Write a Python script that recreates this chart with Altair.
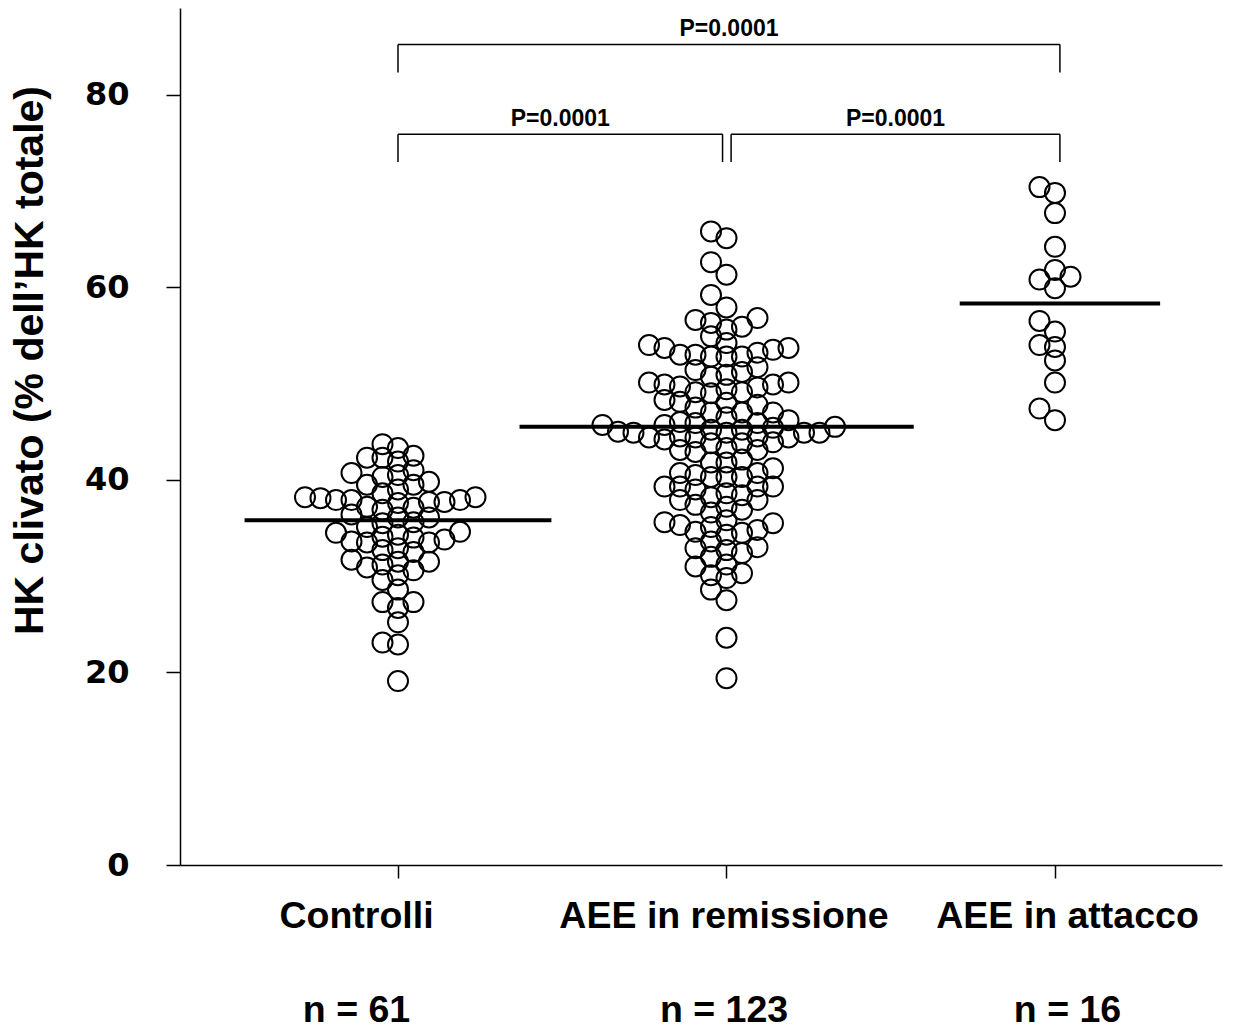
import json
import altair as alt
import pandas as pd

# ---------------- data ----------------
groups = ["Controlli", "AEE in remissione", "AEE in attacco"]
n_labels = ["n = 61", "n = 123", "n = 16"]

controlli = [
    43.3, 43.7, 42.3, 42.5, 41.9, 42.3, 40.5, 41.0, 40.3, 40.7,
    39.8, 39.5, 39.5, 39.0, 38.6, 38.2, 37.7, 37.6, 38.1, 37.9,
    37.9, 37.9, 38.2, 37.7, 36.9, 37.2, 37.1, 35.6, 36.4, 36.1,
    35.5, 36.1, 34.3, 33.5, 34.1, 33.8, 34.5, 34.0, 33.5, 34.6,
    33.6, 32.5, 32.9, 32.7, 31.2, 31.5, 31.7, 31.5, 30.9, 30.6,
    29.6, 28.6, 27.3, 27.3, 26.7, 25.2, 23.1, 22.9, 19.1, 35.1, 30.1,
]

remissione = [
    65.8, 65.1, 62.6, 61.3, 59.2, 57.9, 56.8, 55.9, 53.7, 51.4,
    50.1, 49.0, 47.0, 46.2, 44.2, 43.1, 41.8, 40.3, 39.3, 37.9,
    36.9, 35.8, 34.5, 33.6, 32.4, 31.0, 29.8, 28.6, 27.5, 23.6, 19.4,
    45.7, 44.4, 46.0, 43.8, 45.7, 44.4, 45.0, 43.3, 44.9, 45.9,
    44.5, 45.9, 51.2, 49.1, 49.7, 53.2, 49.9, 53.7, 55.6, 54.0,
    56.6, 52.8, 50.7, 51.7, 50.1, 49.4, 47.5, 47.0, 47.8, 46.5,
    43.1, 42.1, 41.2, 40.5, 40.3, 40.3, 38.4, 39.3, 39.3, 38.2,
    35.5, 35.6, 36.6, 34.6, 33.0, 32.0, 30.1,
    56.3, 54.9, 54.2, 53.5, 53.0, 52.8, 53.0, 52.8, 50.9, 49.9,
    49.6, 49.1, 48.3, 48.1, 48.0, 47.0, 45.2, 45.2, 44.9, 44.9,
    45.4, 43.8, 44.5, 45.5, 44.4, 44.9, 43.9, 42.9, 41.8, 40.7,
    40.7, 39.3, 39.0, 38.6, 37.9, 37.4, 37.2, 35.3, 35.1, 34.8,
    34.3, 32.9, 32.7, 31.2, 30.3,
]

attacco = [
    70.4, 69.8, 67.7, 64.2, 61.8, 61.1, 60.8, 59.9,
    56.5, 55.4, 54.0, 53.8, 52.4, 50.1, 47.4, 46.2,
]

group_means = [35.8, 45.5, 58.3]

comparisons = [(1, 3), (1, 2), (2, 3)]
p_labels = ["P=0.0001", "P=0.0001", "P=0.0001"]

# ---------------- layout constants ----------------
W, H = 1042, 857
Y_MAX = 89
X_MIN, X_MAX = 0.3364, 3.5084
PX_X = W / (X_MAX - X_MIN)
PX_Y = H / Y_MAX
SLOT = 15.5 / PX_X        # horizontal step between swarm columns
GAP = 13                  # minimal vertical pixel gap inside one column
MEAN_CENTER_SHIFT = [0.0, -0.03, 0.015]
MEAN_HALF = [0.467, 0.60, 0.305]
LABEL_SHIFT = [-42, -3, 12]   # horizontal nudge of the category labels (px)


def swarm(vals):
    order = sorted(range(len(vals)), key=lambda i: vals[i])
    cols = {}
    offs = [0.0] * len(vals)
    cands = [0] + [s * k for k in range(1, 40) for s in (-1, 1)]
    for i in order:
        y = vals[i] * PX_Y
        for c in cands:
            if all(abs(y - o) >= GAP for o in cols.get(c, [])):
                cols.setdefault(c, []).append(y)
                offs[i] = c * SLOT
                break
    return offs


rows = []
for g, vals in enumerate([controlli, remissione, attacco], start=1):
    for v, o in zip(vals, swarm(vals)):
        rows.append({"gruppo": groups[g - 1], "x": g + o, "valore": v})
points_df = pd.DataFrame(rows)

centers = [g + s for g, s in zip([1, 2, 3], MEAN_CENTER_SHIFT)]
means_df = pd.DataFrame({
    "gruppo": groups,
    "x": [c - h for c, h in zip(centers, MEAN_HALF)],
    "x2": [c + h for c, h in zip(centers, MEAN_HALF)],
    "valore": group_means,
})

levels = [(85.2, 82.3), (75.9, 73.0), (75.9, 73.0)]
seg = []
txt = []
for (a, b), (top, bot), lab in zip(comparisons, levels, p_labels):
    a2 = a + (0.014 if a == 2 else 0)
    b2 = b - (0.012 if b == 2 else 0)
    b2 = b2 + (0.015 if b == 3 else 0)
    seg.append({"x": a2, "x2": b2, "valore": top, "y2": top})
    seg.append({"x": a2, "x2": a2, "valore": top, "y2": bot})
    seg.append({"x": b2, "x2": b2, "valore": top, "y2": bot})
    txt.append({"x": (a2 + b2) / 2, "valore": top + 0.85, "testo": lab})
seg_df = pd.DataFrame(seg)
txt_df = pd.DataFrame(txt)

label_expr = json.dumps([[g, n] for g, n in zip(groups, n_labels)]) + "[datum.value - 1]"

xscale = alt.Scale(domain=[X_MIN, X_MAX], nice=False, zero=False)
yscale = alt.Scale(domain=[0, Y_MAX], nice=False)

label_offset = {
    "condition": [
        {"test": "datum.value == 1", "value": LABEL_SHIFT[0]},
        {"test": "datum.value == 2", "value": LABEL_SHIFT[1]},
    ],
    "value": LABEL_SHIFT[2],
}

x_axis = alt.Axis(
    values=[1, 2, 3], labelExpr=label_expr, title=None, grid=False,
    tickSize=13, tickWidth=1.5, tickColor="black",
    domainWidth=1.5, domainColor="black",
    labelFont="Liberation Sans", labelFontWeight="bold", labelFontSize=37.5,
    labelColor="black", labelLineHeight=94, labelPadding=19,
    labelOverlap=False, labelFlush=False, labelBound=False, labelLimit=600,
    labelOffset=label_offset,
)
y_axis = alt.Axis(
    values=[0, 20, 40, 60, 80], grid=False,
    tickSize=14, tickWidth=1.5, tickColor="black",
    domainWidth=1.5, domainColor="black",
    labelFont="DejaVu Sans", labelFontWeight="bold", labelFontSize=32,
    labelColor="black", labelPadding=37,
    title="HK clivato (% dell’HK totale)", titleFont="Liberation Sans",
    titleFontWeight="bold", titleFontSize=41, titleColor="black",
    titleX=-150, titleY=352, titleAngle=-90, titleAlign="center", titleBaseline="middle",
    titleLimit=900,
)

X = alt.X("x:Q", scale=xscale, axis=x_axis)
Y = alt.Y("valore:Q", scale=yscale, axis=y_axis)

pts = alt.Chart(points_df).mark_point(
    shape="circle", filled=False, size=400, strokeWidth=2, color="black", opacity=1
).encode(x=X, y=Y)

mean_lines = alt.Chart(means_df).mark_rule(strokeWidth=4, color="black").encode(
    x=X, x2="x2:Q", y=Y,
)

brackets = alt.Chart(seg_df).mark_rule(strokeWidth=1.5, color="black").encode(
    x=X, x2="x2:Q", y=Y, y2="y2:Q",
)

ptext = alt.Chart(txt_df).mark_text(
    font="Liberation Sans", fontWeight="bold", fontSize=23, color="black",
    align="center", baseline="alphabetic",
).encode(x=X, y=Y, text="testo:N")

chart = alt.layer(pts, mean_lines, brackets, ptext).properties(
    width=W, height=H,
    autosize=alt.AutoSizeParams(type="none"),
    padding={"left": 180, "top": 8, "right": 22, "bottom": 166},
    background="white",
).configure_view(stroke=None)

chart.save("out.html", embed_options={"renderer": "svg", "actions": False})
